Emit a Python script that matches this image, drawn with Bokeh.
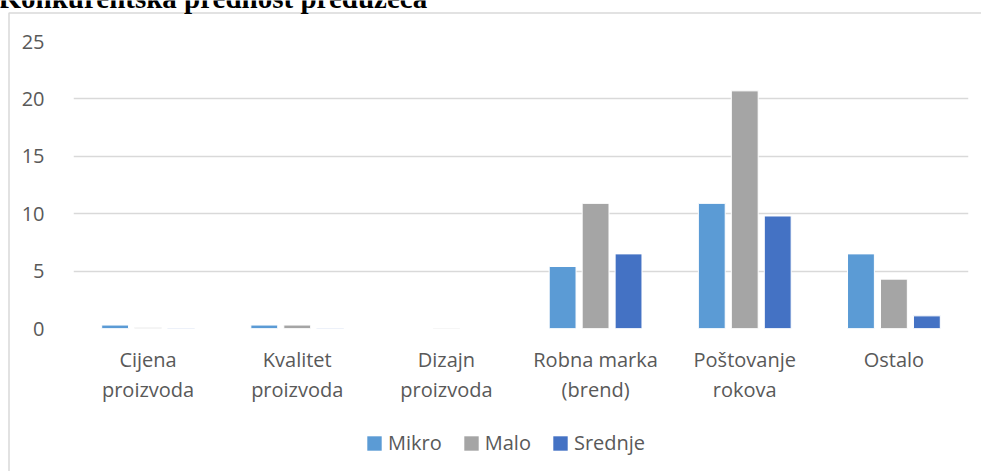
from bokeh.plotting import figure
from bokeh.models import (FactorRange, Range1d, Legend, LegendItem,
                          ColumnDataSource, FixedTicker)
from bokeh.core.properties import value
from bokeh.transform import dodge
from bokeh.embed import file_html
from bokeh.resources import INLINE

title_text = "Konkurentska prednost preduzeća"
categories = ["Cijena\nproizvoda", "Kvalitet\nproizvoda", "Dizajn\nproizvoda",
              "Robna marka\n(brend)", "Poštovanje\nrokova", "Ostalo"]
series_names = ["Mikro", "Malo", "Srednje"]
mikro = [0.3, 0.3, 0.0, 5.4, 10.9, 6.5]
malo = [0.1, 0.3, 0.05, 10.9, 20.7, 4.3]
srednje = [0.05, 0.05, 0.0, 6.5, 9.8, 1.1]
colors = ["#5B9BD5", "#A5A5A5", "#4472C4"]
y_ticks = [0, 5, 10, 15, 20, 25]

FONT = "Open Sans"
TXT = "#595959"
W, H = 981, 471

# ---- background layer: chart-area border, cropped title, legend ----
bg = figure(width=W, height=H, x_range=Range1d(0, W), y_range=Range1d(H, 0),
            min_border=0, toolbar_location=None, output_backend="svg",
            x_axis_type=None, y_axis_type=None)
bg.grid.visible = False
bg.outline_line_color = None
bg.styles = {"position": "absolute", "left": "0px", "top": "0px"}
bg.quad(left=[8.5], right=[W + 20], top=[12.5], bottom=[H + 20],
        fill_color=None, line_color="#D9D9D9", line_width=1.5)
bg.text(x=[-2], y=[-3], text=[title_text], text_font=value("Liberation Serif"),
        text_font_style="bold", text_font_size="29px", text_color="black",
        text_baseline="alphabetic", text_align="left")

# off-canvas proxies only used to draw the legend swatches
legend_renderers = [bg.vbar(x=[-100], top=[-100], bottom=[-90], width=1, fill_color=c,
                            line_color=c, line_width=0) for c in colors]
legend = Legend(items=[LegendItem(label=n, renderers=[r])
                       for n, r in zip(series_names, legend_renderers)],
                orientation="horizontal", location=(365, 15),
                glyph_width=18, glyph_height=18, label_standoff=5, spacing=20,
                padding=0, margin=0, border_line_color=None, background_fill_alpha=0,
                label_text_font=FONT, label_text_font_size="20px", label_text_color=TXT,
                label_height=20)
bg.add_layout(legend)

# ---- main chart ----
src = ColumnDataSource(dict(cat=categories, Mikro=mikro, Malo=malo, Srednje=srednje))

p = figure(x_range=FactorRange(*categories), y_range=Range1d(0, 25),
           width=W, height=H, output_backend="svg", toolbar_location=None,
           min_border_left=73, min_border_right=13, min_border_top=41,
           min_border_bottom=143)
p.styles = {"position": "absolute", "left": "0px", "top": "0px"}
p.outline_line_color = None
p.background_fill_alpha = 0
p.border_fill_alpha = 0

p.xgrid.grid_line_color = None
p.ygrid.ticker = FixedTicker(ticks=y_ticks)
p.ygrid.grid_line_color = "#D9D9D9"
p.ygrid.grid_line_width = 1.5

p.yaxis.ticker = FixedTicker(ticks=y_ticks)
for ax in (p.xaxis[0], p.yaxis[0]):
    ax.axis_line_color = None
    ax.major_tick_line_color = None
    ax.minor_tick_line_color = None
    ax.major_label_text_font = FONT
    ax.major_label_text_font_size = "20px"
    ax.major_label_text_color = TXT
p.yaxis.major_label_standoff = 23
p.xaxis.major_label_standoff = 11
p.xaxis.major_label_text_line_height = 1.12

offsets = [-0.221, 0.0, 0.221]
for name, col, off in zip(series_names, colors, offsets):
    p.vbar(x=dodge("cat", off, range=p.x_range), top=name, width=0.18,
           source=src, fill_color=col, line_color="white", line_width=1)

open("out.html", "w").write(file_html([bg, p], INLINE))
